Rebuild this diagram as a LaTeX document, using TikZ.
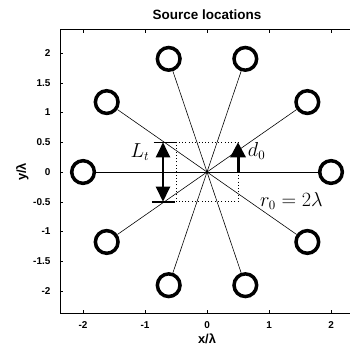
\documentclass[tikz,border=0pt]{standalone}
\usepackage{fontspec}
\setsansfont{Liberation Sans}
\usetikzlibrary{arrows.meta}

\tikzset{
  src/.style={circle, draw, line width=1.05mm, minimum size=0.68cm, inner sep=0pt},
  ray/.style={line width=0.5pt},
  bigarrow/.style={line width=2.6pt, -{Triangle[width=13pt,length=13pt]}},
  twoarrow/.style={line width=2.2pt, {Triangle[width=12pt,length=13pt]}-{Triangle[width=12pt,length=13pt]}},
  ticklab/.style={font=\sffamily\bfseries\fontsize{8.5}{10}\selectfont},
  mathlab/.style={font=\fontsize{16}{18}\selectfont},
}

\begin{document}
\begin{tikzpicture}[x=1.86cm, y=1.785cm]
    \useasboundingbox (-3.339,-2.941) rectangle (2.306,2.891);

    % Frame and title
    \draw[line width=0.6pt] (2.5,2.39) -- (-2.371,2.39) -- (-2.371,-2.37) -- (2.5,-2.37);
    \node[font=\sffamily\bfseries\fontsize{11.5}{13}\selectfont] (title) at (0,2.64) {Source locations};
    \node[font=\sffamily\bfseries\fontsize{11}{13}\selectfont] (xlab) at (0,-2.8) {x/λ};
    \node[font=\sffamily\bfseries\fontsize{11}{13}\selectfont, rotate=90] (ylab) at (-2.98,0) {y/λ};

    % Ticks
    \foreach \x in {-2,-1,0,1,2} {
        \draw (\x,-2.37) -- (\x,-2.32);
        \draw (\x,2.39) -- (\x,2.34);
        \node[ticklab] (xt\x) at (\x,-2.57) {\x};
    }
    \foreach \y in {-2,-1.5,-1,-0.5,0,0.5,1,1.5,2} {
        \draw (-2.371,\y) -- (-2.32,\y);
        \node[ticklab, anchor=east] (yt\y) at (-2.46,\y) {\y};
    }

    % Sources on the circle
    \coordinate (o) at (0,0);
    \foreach \i in {0,...,9} {
        \node[src] (s\i) at ({2*cos(36*\i)},{2*sin(36*\i)}) {};
        \draw[ray] (o) -- (s\i);
    }
    \fill (o) circle (1.2pt);

    % Dotted square
    \draw[dotted, line width=0.8pt] (-0.5,-0.5) rectangle (0.5,0.5);

    % L_t arrow with bars
    \coordinate (lt) at (-0.71,0.5);
    \coordinate (lb) at (-0.71,-0.5);
    \draw[line width=1.3pt] (-0.86,0.5) -- (-0.5,0.5);
    \draw[line width=1.3pt] (-0.89,-0.5) -- (-0.52,-0.5);
    \draw[twoarrow] (lt) -- (lb);
    \node[mathlab] (ltlab) at (-1.08,0.33) {$L_t$};

    % d_0 arrow
    \coordinate (db) at (0.5,0);
    \coordinate (dt) at (0.5,0.5);
    \draw[bigarrow] (db) -- (dt);
    \node[mathlab] (dlab) at (0.8,0.36) {$d_0$};

    % radius label
    \node[mathlab] (rlab) at (1.36,-0.48) {$r_0 = 2\lambda$};
\end{tikzpicture}
\end{document}
